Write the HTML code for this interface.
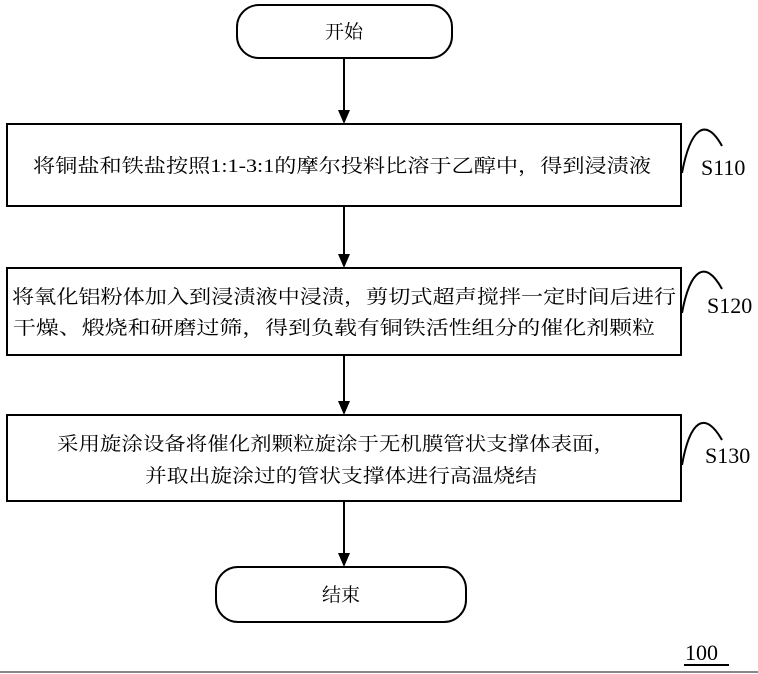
<!DOCTYPE html>
<html><head><meta charset="utf-8"><style>
html,body{margin:0;padding:0;background:#fff;}
svg{display:block;}
text{font-family:"Liberation Serif","Noto Serif CJK SC",serif;fill:#000;}
</style></head><body>
<svg width="758" height="674" viewBox="0 0 758 674" xmlns="http://www.w3.org/2000/svg">
<g fill="none" stroke="#000" stroke-width="2">
<rect x="237" y="5" width="215" height="53" rx="22"/>
<rect x="7" y="124" width="674" height="82"/>
<rect x="7" y="268" width="674" height="87"/>
<rect x="7" y="415" width="674" height="86"/>
<rect x="216" y="567" width="250" height="55" rx="22"/>
<line x1="344" y1="58" x2="344" y2="112"/>
<line x1="344" y1="206" x2="344" y2="256"/>
<line x1="344" y1="355" x2="344" y2="403"/>
<line x1="344" y1="501" x2="344" y2="555"/>
<path d="M682,173 C690,130 705,115 722,146"/>
<path d="M682,313 C690,270 705,258 722,289"/>
<path d="M682,465 C690,420 705,410 722,440"/>
<line x1="684" y1="665" x2="729" y2="665"/>
</g>
<g fill="#000">
<polygon points="338,110 350,110 344,124"/>
<polygon points="338,254 350,254 344,268"/>
<polygon points="338,401 350,401 344,415"/>
<polygon points="338,553 350,553 344,567"/>
</g>
<line x1="0" y1="672" x2="758" y2="672" stroke="#888" stroke-width="2"/>
<g font-size="19">
<text x="344" y="38" text-anchor="middle">开始</text>
<text x="33" y="172" textLength="618" lengthAdjust="spacingAndGlyphs">将铜盐和铁盐按照1:1-3:1的摩尔投料比溶于乙醇中，得到浸渍液</text>
<text x="12" y="303" textLength="664" lengthAdjust="spacingAndGlyphs">将氧化铝粉体加入到浸渍液中浸渍，剪切式超声搅拌一定时间后进行</text>
<text x="13" y="334" textLength="642" lengthAdjust="spacingAndGlyphs">干燥、煅烧和研磨过筛，得到负载有铜铁活性组分的催化剂颗粒</text>
<text x="57" y="450" textLength="558" lengthAdjust="spacingAndGlyphs">采用旋涂设备将催化剂颗粒旋涂于无机膜管状支撑体表面，</text>
<text x="145" y="482" textLength="392" lengthAdjust="spacingAndGlyphs">并取出旋涂过的管状支撑体进行高温烧结</text>
<text x="341" y="601" text-anchor="middle">结束</text>
</g>
<g font-size="22">
<text x="701" y="175">S110</text>
<text x="707" y="313">S120</text>
<text x="705" y="463">S130</text>
<text x="685" y="660">100</text>
</g>
</svg>
</body></html>
